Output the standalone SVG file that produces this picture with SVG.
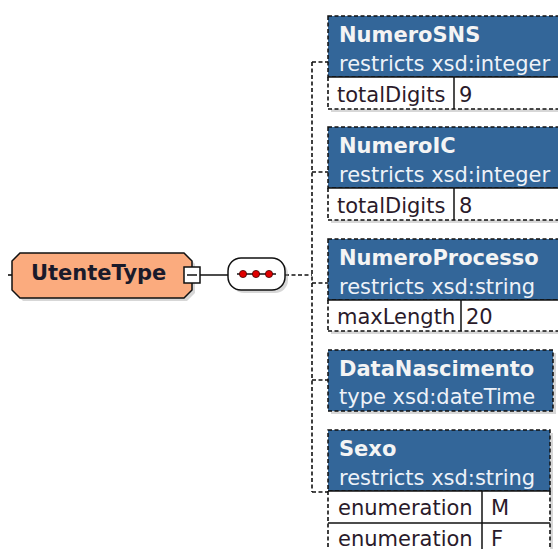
<svg xmlns="http://www.w3.org/2000/svg" width="558" height="549" viewBox="0 0 558 549">
<style>
.t{font-family:"DejaVu Sans",Verdana,sans-serif;font-size:21px}
.title{font-weight:bold;fill:#f4f4f4}
.sub{fill:#eef2f8}
.cell{fill:#2a1a2a}
.hdr{fill:#336699;stroke:#111;stroke-width:1.5;stroke-dasharray:4 2.5}
.shadow{fill:#9a9a9a;opacity:0.4}
.row{fill:#ffffff}
.dash{stroke:#111;stroke-width:1.6;stroke-dasharray:4 2.5;fill:none}
.solid{stroke:#111;stroke-width:1.5;fill:none}
</style>
<rect width="558" height="549" fill="#ffffff"/>
<g id="connectors">
  <line x1="8" y1="275" x2="12" y2="275" class="dash"/>
  <line x1="200" y1="275" x2="228" y2="275" class="solid"/>
  <line x1="285" y1="275" x2="312" y2="275" class="dash"/>
  <line x1="312" y1="62" x2="312" y2="492" class="dash"/>
  <line x1="312" y1="62" x2="328" y2="62" class="dash"/>
  <line x1="312" y1="172" x2="328" y2="172" class="dash"/>
  <line x1="312" y1="283" x2="328" y2="283" class="dash"/>
  <line x1="312" y1="380" x2="328" y2="380" class="dash"/>
  <line x1="312" y1="492" x2="328" y2="492" class="dash"/>
</g>
<g id="UtenteType">
  <polygon points="23,256 187,256 195,264 195,293 187,301 23,301 15,293 15,264" class="shadow"/>
  <polygon points="20,253 184,253 192,261 192,290 184,298 20,298 12,290 12,261" fill="#fbab7e" stroke="#111" stroke-width="1.5"/>
  <text x="31" y="280" class="t" font-weight="bold" fill="#1a1a2a">UtenteType</text>
  <rect x="184" y="267" width="16" height="16" fill="#fff" stroke="#111" stroke-width="1.5"/>
  <line x1="187" y1="275" x2="197" y2="275" stroke="#111" stroke-width="1.5"/>
</g>
<g id="sequence">
  <rect x="231" y="261" width="57" height="32" rx="13" class="shadow"/>
  <rect x="228" y="258" width="57" height="32" rx="13" fill="#fff" stroke="#111" stroke-width="1.5"/>
  <line x1="237" y1="274" x2="276" y2="274" stroke="#111" stroke-width="1.5"/>
  <circle cx="243" cy="274" r="3.6" fill="#e00000" stroke="#400" stroke-width="0.8"/>
  <circle cx="256" cy="274" r="3.6" fill="#e00000" stroke="#400" stroke-width="0.8"/>
  <circle cx="269" cy="274" r="3.6" fill="#e00000" stroke="#400" stroke-width="0.8"/>
</g>
<g id="NumeroSNS">
  <rect x="331" y="19" width="240" height="93" class="shadow"/>
  <rect x="328" y="16" width="240" height="61" class="hdr"/>
  <rect x="328" y="77" width="240" height="32" class="row"/>
  <line x1="328" y1="77" x2="568" y2="77" class="solid"/>
  <line x1="328" y1="77" x2="328" y2="109" class="dash"/>
  <line x1="328" y1="109" x2="568" y2="109" class="dash"/>
  <line x1="454" y1="77" x2="454" y2="109" class="solid"/>
  <text x="339" y="42" class="t title">NumeroSNS</text>
  <text x="339" y="71" class="t sub">restricts xsd:integer</text>
  <text x="337" y="102" class="t cell">totalDigits</text>
  <text x="459" y="102" class="t cell">9</text>
</g>
<g id="NumeroIC">
  <rect x="331" y="130" width="240" height="93" class="shadow"/>
  <rect x="328" y="127" width="240" height="61" class="hdr"/>
  <rect x="328" y="188" width="240" height="32" class="row"/>
  <line x1="328" y1="188" x2="568" y2="188" class="solid"/>
  <line x1="328" y1="188" x2="328" y2="220" class="dash"/>
  <line x1="328" y1="220" x2="568" y2="220" class="dash"/>
  <line x1="454" y1="188" x2="454" y2="220" class="solid"/>
  <text x="339" y="153" class="t title">NumeroIC</text>
  <text x="339" y="182" class="t sub">restricts xsd:integer</text>
  <text x="337" y="213" class="t cell">totalDigits</text>
  <text x="459" y="213" class="t cell">8</text>
</g>
<g id="NumeroProcesso">
  <rect x="331" y="242" width="240" height="92" class="shadow"/>
  <rect x="328" y="239" width="240" height="61" class="hdr"/>
  <rect x="328" y="300" width="240" height="31" class="row"/>
  <line x1="328" y1="300" x2="568" y2="300" class="solid"/>
  <line x1="328" y1="300" x2="328" y2="331" class="dash"/>
  <line x1="328" y1="331" x2="568" y2="331" class="dash"/>
  <line x1="461" y1="300" x2="461" y2="331" class="solid"/>
  <text x="339" y="265" class="t title">NumeroProcesso</text>
  <text x="339" y="294" class="t sub">restricts xsd:string</text>
  <text x="337" y="324" class="t cell">maxLength</text>
  <text x="466" y="324" class="t cell">20</text>
</g>
<g id="DataNascimento">
  <rect x="331" y="353" width="225" height="61" class="shadow"/>
  <rect x="328" y="350" width="225" height="61" class="hdr"/>
  <text x="339" y="376" class="t title">DataNascimento</text>
  <text x="339" y="404" class="t sub">type xsd:dateTime</text>
</g>
<g id="Sexo">
  <rect x="331" y="433" width="222" height="125" class="shadow"/>
  <rect x="328" y="430" width="222" height="61" class="hdr"/>
  <rect x="328" y="491" width="222" height="64" class="row"/>
  <line x1="328" y1="491" x2="550" y2="491" class="solid"/>
  <line x1="328" y1="523" x2="550" y2="523" class="solid"/>
  <line x1="328" y1="491" x2="328" y2="555" class="dash"/>
  <line x1="550" y1="491" x2="550" y2="555" class="dash"/>
  <line x1="482" y1="491" x2="482" y2="555" class="solid"/>
  <text x="339" y="456" class="t title">Sexo</text>
  <text x="339" y="485" class="t sub">restricts xsd:string</text>
  <text x="338" y="515" class="t cell">enumeration</text>
  <text x="491" y="515" class="t cell">M</text>
  <text x="338" y="546" class="t cell">enumeration</text>
  <text x="491" y="546" class="t cell">F</text>
</g>
</svg>
